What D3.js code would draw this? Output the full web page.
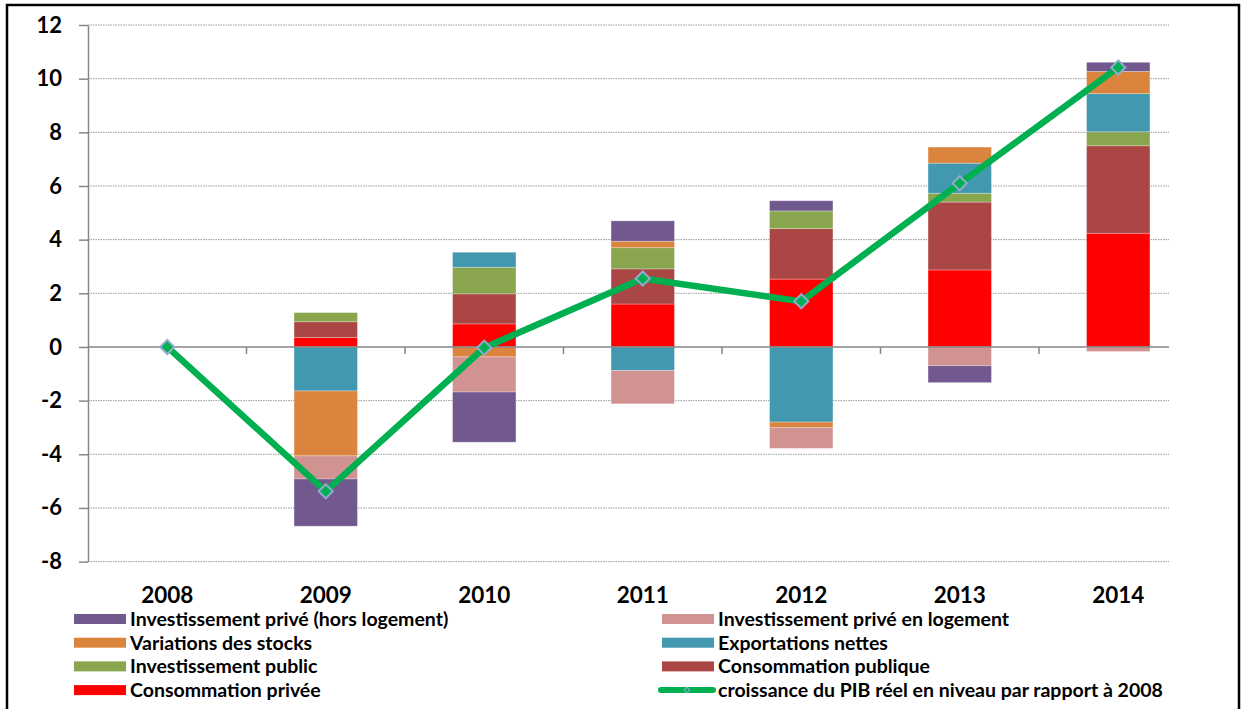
<!DOCTYPE html>
<html>
<head>
<meta charset="utf-8">
<script src="https://cdn.jsdelivr.net/npm/d3@7"></script>
<style>
  body { margin: 0; background: #fff; }
  svg { display: block; font-family: Lato, "Open Sans", sans-serif; }
</style>
</head>
<body>
<svg width="1246" height="709"></svg>
<script>
// donnees (contributions a la croissance, points de %)
const years = ["2008", "2009", "2010", "2011", "2012", "2013", "2014"];
const consoPrivee   = [0, 0.35, 0.86, 1.60, 2.53, 2.87, 4.24];
const consoPublique = [0, 0.59, 1.12, 1.31, 1.88, 2.53, 3.26];
const investPublic  = [0, 0.34, 0.99, 0.79, 0.66, 0.33, 0.52];
const exportNettes  = [0, -1.64, 0.56, -0.88, -2.80, 1.12, 1.42];
const stocks        = [0, -2.42, -0.37, 0.24, -0.21, 0.60, 0.83];
const logement      = [0, -0.86, -1.31, -1.24, -0.77, -0.70, -0.17];
const horsLogement  = [0, -1.76, -1.87, 0.76, 0.38, -0.63, 0.34];
const pib           = [0, -5.38, -0.03, 2.55, 1.70, 6.10, 10.42];
const yTicks = [-8, -6, -4, -2, 0, 2, 4, 6, 8, 10, 12];

// ordre d'empilement (comme dans Excel)
const series = [
  { key: "consoPrivee",   label: "Consommation privée",                  values: consoPrivee,   color: "#FF0000" },
  { key: "consoPublique", label: "Consommation publique",                values: consoPublique, color: "#AA4643" },
  { key: "investPublic",  label: "Investissement public",                values: investPublic,  color: "#89A54E" },
  { key: "exportNettes",  label: "Exportations nettes",                  values: exportNettes,  color: "#4198AF" },
  { key: "stocks",        label: "Variations des stocks",                values: stocks,        color: "#DB843D" },
  { key: "logement",      label: "Investissement privé en logement",     values: logement,      color: "#D19392" },
  { key: "horsLogement",  label: "Investissement privé (hors logement)", values: horsLogement,  color: "#71588F" }
];
const lineLabel = "croissance du PIB réel en niveau par rapport à 2008";
const lineColor = "#00B050";
const markerStroke = "#93A9CF";

const svg = d3.select("svg");

// cadre noir autour du graphique
svg.append("rect")
    .attr("x", 7).attr("y", 5)
    .attr("width", 1232).attr("height", 720)
    .attr("fill", "none")
    .attr("stroke", "#000")
    .attr("stroke-width", 2.5);

const plotLeft = 88, plotRight = 1169, plotTop = 25, plotBottom = 561.6;

const x = d3.scaleBand()
    .domain(years)
    .range([plotLeft, plotLeft + 158.5 * years.length])
    .padding(0);

const y = d3.scaleLinear()
    .domain([-8, 12])
    .range([plotBottom, plotTop]);

// tableau pour d3.stack
const table = years.map((yr, i) => {
  const row = { year: yr };
  series.forEach(s => { row[s.key] = s.values[i]; });
  return row;
});

const stacked = d3.stack()
    .keys(series.map(s => s.key))
    .offset(d3.stackOffsetDiverging)(table);

// quadrillage pointille
svg.append("g")
    .selectAll("line")
    .data(yTicks.filter(t => t !== 0))
    .enter()
    .append("line")
    .attr("x1", plotLeft)
    .attr("x2", plotRight)
    .attr("y1", d => y(d))
    .attr("y2", d => y(d))
    .attr("stroke", "#9a9a9a")
    .attr("stroke-width", 1)
    .attr("stroke-dasharray", "1.5,1");

// axe vertical (tiret simple pour les negatifs, comme Excel)
const yAxis = d3.axisLeft(y)
    .tickValues(yTicks)
    .tickSizeInner(9)
    .tickSizeOuter(0)
    .tickPadding(17)
    .tickFormat(d => String(d));

const gy = svg.append("g")
    .attr("transform", `translate(${plotLeft},0)`)
    .call(yAxis);
gy.select(".domain").attr("stroke", "#868686").attr("stroke-width", 1.5);
gy.selectAll(".tick line").attr("stroke", "#868686").attr("stroke-width", 1.5);
gy.selectAll(".tick text")
    .attr("fill", "#000")
    .style("font-size", "22px")
    .style("font-weight", "bold")
    .style("font-family", "Lato, sans-serif");

// barres empilees
const barW = x.bandwidth() / 2.5;
svg.append("g")
    .selectAll("g")
    .data(stacked)
    .enter()
    .append("g")
    .attr("fill", (d, i) => series[i].color)
    .selectAll("rect")
    .data(d => d)
    .enter()
    .append("rect")
    .attr("x", d => x(d.data.year) + (x.bandwidth() - barW) / 2)
    .attr("y", d => y(Math.max(d[0], d[1])))
    .attr("width", barW)
    .attr("height", d => Math.abs(y(d[0]) - y(d[1])))
    .attr("stroke", "#fff")
    .attr("stroke-opacity", 0.35)
    .attr("stroke-width", 0.8);

// axe horizontal (ligne du zero) avec graduations entre les annees
svg.append("line")
    .attr("x1", plotLeft).attr("x2", plotRight)
    .attr("y1", y(0)).attr("y2", y(0))
    .attr("stroke", "#868686")
    .attr("stroke-width", 1.5);

svg.append("g")
    .selectAll("line")
    .data(years.slice(1).filter(yr => x(yr) < plotRight))
    .enter()
    .append("line")
    .attr("x1", d => x(d)).attr("x2", d => x(d))
    .attr("y1", y(0)).attr("y2", y(0) + 7)
    .attr("stroke", "#868686")
    .attr("stroke-width", 1.5);

// etiquettes des annees en bas
svg.append("g")
    .selectAll("text")
    .data(years)
    .enter()
    .append("text")
    .attr("x", d => x(d) + x.bandwidth() / 2)
    .attr("y", 603)
    .attr("text-anchor", "middle")
    .style("font-size", "22.5px")
    .style("font-weight", "bold")
    .text(d => d);

// courbe du PIB
const line = d3.line()
    .x((d, i) => x(years[i]) + x.bandwidth() / 2)
    .y(d => y(d));

svg.append("path")
    .datum(pib)
    .attr("d", line)
    .attr("fill", "none")
    .attr("stroke", lineColor)
    .attr("stroke-width", 6.5)
    .attr("stroke-linejoin", "round");

const diamond = d3.symbol().type(d3.symbolSquare).size(100);
svg.append("g")
    .selectAll("path")
    .data(pib)
    .enter()
    .append("path")
    .attr("d", diamond)
    .attr("transform", (d, i) => `translate(${x(years[i]) + x.bandwidth() / 2},${y(d)}) rotate(45)`)
    .attr("fill", lineColor)
    .attr("stroke", markerStroke)
    .attr("stroke-width", 2);

// legende sur deux colonnes
const legendItems = [
  series[6], series[5],
  series[4], series[3],
  series[2], series[1],
  series[0], { label: lineLabel, line: true }
];
const legend = svg.append("g")
    .selectAll("g")
    .data(legendItems)
    .enter()
    .append("g")
    .attr("transform", (d, i) => `translate(${i % 2 === 0 ? 74 : 662},${619 + Math.floor(i / 2) * 23.7})`);

legend.filter(d => !d.line)
    .append("rect")
    .attr("x", 0).attr("y", -5)
    .attr("width", 52).attr("height", 10)
    .attr("fill", d => d.color);

const legLine = legend.filter(d => d.line);
legLine.append("line")
    .attr("x1", -1).attr("x2", 51)
    .attr("y1", 0).attr("y2", 0)
    .attr("stroke", lineColor)
    .attr("stroke-width", 6)
    .attr("stroke-linecap", "round");
legLine.append("path")
    .attr("d", d3.symbol().type(d3.symbolSquare).size(16))
    .attr("transform", "translate(25,0) rotate(45)")
    .attr("fill", lineColor)
    .attr("stroke", markerStroke)
    .attr("stroke-width", 1);

legend.append("text")
    .attr("x", 56)
    .attr("y", 0)
    .attr("dy", "0.35em")
    .style("font-size", "19.5px")
    .style("font-weight", "bold")
    .text(d => d.label);
</script>
</body>
</html>
